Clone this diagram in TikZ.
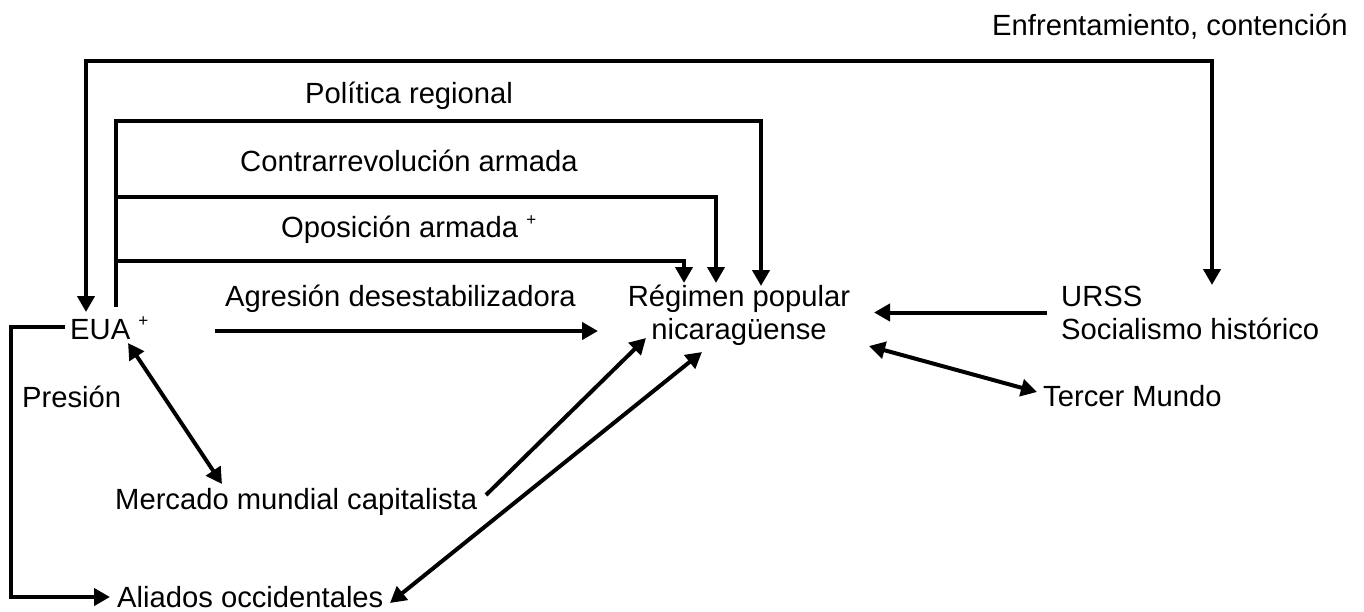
\documentclass[tikz,border=0pt]{standalone}
\usepackage{fontspec}
\setmainfont{Liberation Sans}
\usetikzlibrary{arrows.meta}
\newcommand{\plusmark}{{\fontsize{17}{17}\selectfont\raisebox{13pt}{+}}}
\begin{document}
\begin{tikzpicture}[x=1pt,y=-1pt,
  lbl/.style={inner sep=0pt, anchor=base west, font=\fontsize{29.2}{33}\selectfont},
  wire/.style={line width=4pt},
  tip/.style={-{Triangle[length=16pt,width=17pt]}},
  tips/.style={{Triangle[length=16pt,width=17pt]}-{Triangle[length=16pt,width=17pt]}}]
\useasboundingbox (0,0) rectangle (1364,612);

% actors
\node[lbl] (eua) at (70,339) {EUA \plusmark};
\node[lbl, anchor=base] (reg) at (739,339)
  {\begin{tabular}[b]{@{}c@{}}Régimen popular\\nicaragüense\end{tabular}};
\node[lbl] (urss) at (1061,339)
  {\begin{tabular}[b]{@{}l@{}}URSS\\Socialismo histórico\end{tabular}};
\node[lbl] (tercer) at (1043,406) {Tercer Mundo};
\node[lbl] (mercado) at (115,509) {Mercado mundial capitalista};
\node[lbl] (aliados) at (117,607) {Aliados occidentales};

% relation labels
\node[lbl] (lEnf) at (992,36) {Enfrentamiento, contención};
\node[lbl] (lPol) at (305,104) {Política regional};
\node[lbl] (lCon) at (240,172) {Contrarrevolución armada};
\node[lbl] (lOpo) at (281,238) {Oposición armada \plusmark};
\node[lbl] (lAgr) at (225,306) {Agresión desestabilizadora};
\node[lbl] (lPre) at (22,407) {Presión};

% connector end points
\coordinate (euaIn)   at (86,312);
\coordinate (euaOut)  at (116,307);
\coordinate (euaRight) at (215,331);
\coordinate (euaLeft) at (65,327);
\coordinate (euaLow)  at (128,343);
\coordinate (urssTop) at (1212,285);
\coordinate (urssLeft) at (1047,312.5);
\coordinate (regPol)  at (761,286);
\coordinate (regCon)  at (716,283);
\coordinate (regOpo)  at (684,283);
\coordinate (regLeft) at (598,331);
\coordinate (regRight) at (874,312.5);
\coordinate (regLowR) at (869,346);
\coordinate (regLowA) at (646,338);
\coordinate (regLowB) at (702,352);
\coordinate (tercerIn) at (1037,392);
\coordinate (mercTop) at (222,484);
\coordinate (mercEnd) at (486,495);
\coordinate (aliIn)   at (110,597);
\coordinate (aliEnd)  at (390,603);

% United States and the Soviet bloc
\draw[wire, tips] (euaIn) |- (1212,61) -- (urssTop);

% pressure lines onto the regime
\draw[wire, tip] (euaOut) |- (761,121) -- (regPol);
\draw[wire, tip] (euaOut |- 0,197) -| (regCon);
\draw[wire, tip] (euaOut |- 0,261) -| (regOpo);
\draw[wire, tip] (euaRight) -- (regLeft);

% the regime and the world
\draw[wire, tip] (urssLeft) -- (regRight);
\draw[wire, tips] (regLowR) -- (tercerIn);
\draw[wire, tips] (euaLow) -- (mercTop);
\draw[wire, tip] (mercEnd) -- (regLowA);
\draw[wire, tips] (aliEnd) -- (regLowB);

% pressure on the western allies
\draw[wire, tip] (euaLeft) -- (11,327) |- (aliIn);
\end{tikzpicture}
\end{document}
